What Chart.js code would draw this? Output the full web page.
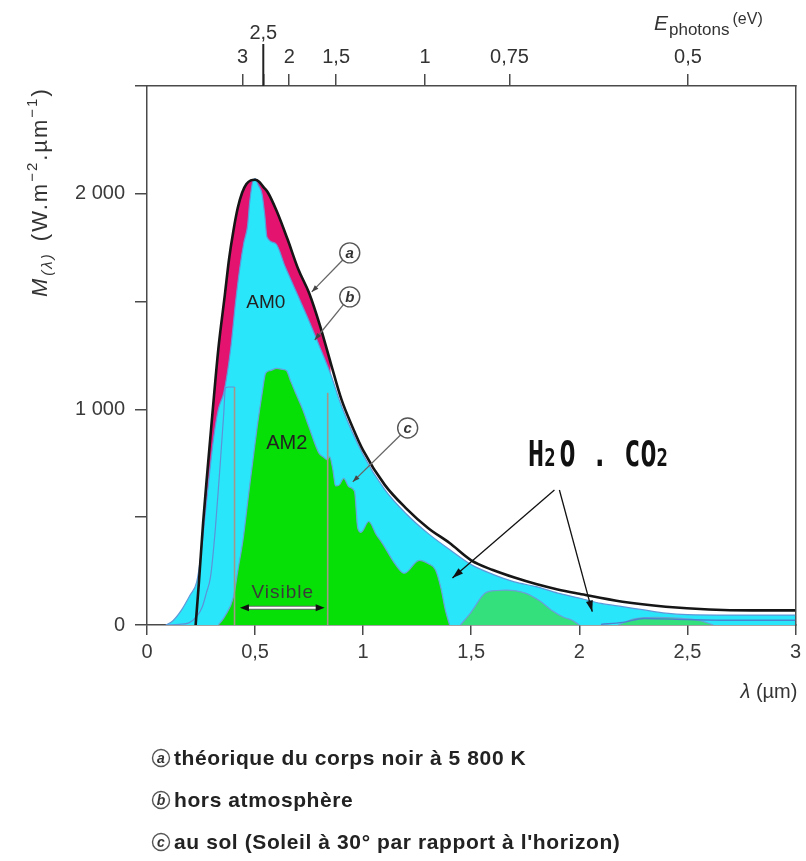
<!DOCTYPE html>
<html>
<head>
<meta charset="utf-8">
<script src="https://cdn.jsdelivr.net/npm/chart.js@4/dist/chart.umd.min.js"></script>
<style>
html,body{margin:0;padding:0;background:#ffffff;}
canvas{display:block;}
</style>
</head>
<body>
<canvas id="chart" width="806" height="861"></canvas>
<script>
// ---------- DATA ----------
// (a) blackbody 5 800 K
const lambdaA = [0.225,0.232,0.24,0.26,0.28,0.30,0.33,0.36,0.38,0.40,0.42,0.44,0.46,0.48,0.50,0.52,0.54,0.56,0.60,0.65,0.70,0.75,0.80,0.85,0.90,0.95,1.00,1.10,1.20,1.30,1.40,1.50,1.60,1.70,1.80,1.90,2.00,2.20,2.40,2.60,2.80,3.00];
const valuesA = [0,90,195,480,720,950,1280,1530,1700,1830,1935,2005,2045,2062,2065,2055,2030,2005,1920,1790,1650,1540,1390,1215,1045,920,810,650,540,450,380,300,255,220,190,165,145,108,85,72,68,68];
// (b) AM0, outside the atmosphere
const lambdaB = [0.088,0.12,0.16,0.20,0.23,0.25,0.27,0.29,0.31,0.33,0.356,0.387,0.41,0.43,0.448,0.465,0.475,0.49,0.50,0.515,0.532,0.545,0.555,0.595,0.64,0.693,0.75,0.795,0.849,0.90,1.00,1.10,1.20,1.30,1.40,1.50,1.60,1.70,1.80,1.90,2.00,2.10,2.20,2.30,2.40,2.50,2.70,3.00];
const valuesB = [0,20,70,140,200,330,520,710,880,1000,1080,1280,1500,1660,1773,1850,1960,2060,2070,2040,2000,1900,1800,1770,1660,1540,1410,1300,1165,1015,790,628,515,425,350,280,235,200,178,148,125,100,85,70,55,48,46,46];
// inner UV outline inside the AM0 area
const lambdaUV = [0.086,0.15,0.194,0.23,0.256,0.275,0.294,0.317,0.34,0.355,0.363,0.38,0.405];
const valuesUV = [0,3,10,40,85,150,224,456,766,980,1100,1104,1104];
// (c) AM2, at ground level
const lambdaC = [0.33,0.36,0.40,0.42,0.445,0.471,0.51,0.533,0.549,0.57,0.60,0.63,0.645,0.665,0.687,0.72,0.749,0.795,0.815,0.834,0.845,0.86,0.872,0.89,0.91,0.935,0.96,0.975,0.99,1.026,1.06,1.088,1.15,1.19,1.26,1.30,1.335,1.36,1.38,1.40];
const valuesC = [0,40,130,250,400,613,920,1077,1168,1180,1190,1185,1180,1130,1077,1000,919,798,780,766,780,720,645,650,680,640,620,450,430,480,420,380,280,240,300,285,255,170,70,0];
const lambdaC2 = [1.45,1.50,1.565,1.62,1.66,1.75,1.82,1.87,1.93,1.965,2.00];
const valuesC2 = [0,60,148,160,162,148,110,70,35,23,0];
const lambdaC3 = [2.18,2.25,2.35,2.45,2.55,2.62];
const valuesC3 = [0,28,36,32,22,0];
const lambdaCtail = [2.10,2.20,2.30,2.50,2.70,3.00];
const valuesCtail = [3,12,30,25,22,22];
// limits of the visible band
const visibleLimits = [0.405, 0.836];
const visibleTop = [1104, 1077];
// axes
const xTickValues = [0,0.5,1,1.5,2,2.5,3];
const xTickLabels = ['0','0,5','1','1,5','2','2,5','3'];
const yTickValues = [0,500,1000,1500,2000,2500];
const yTickLabels = ['0','','1 000','','2 000',''];
const energyTickLambda = [0.442,0.538,0.658,0.875,1.286,1.677,2.503];
const energyTickLabels = ['3','2,5','2','1,5','1','0,75','0,5'];
const raisedEnergyLabel = '2,5';
// legend texts
const legendLetters = ['a','b','c'];
const legendTexts = ['théorique du corps noir à 5 800 K','hors atmosphère',"au sol (Soleil à 30° par rapport à l'horizon)"];

// ---------- helpers ----------
const pts = (xs, ys) => xs.map((v, i) => ({x: v, y: ys[i]}));
const FONT = '"Liberation Sans", Arial, sans-serif';
const AX = '#4a4a4a';

const notes = {
  am0: {x:0.55, y:1494, text:'AM0'},
  am2: {x:0.647, y:840, text:'AM2'},
  visible: {x:0.628, y:150, text:'Visible'},
  visibleArrow: {x1:0.43, x2:0.822, y:80},
  circles: [
    {l:'a', x:0.938, y:1726, tx:0.762, ty:1545},
    {l:'b', x:0.938, y:1522, tx:0.776, ty:1322},
    {l:'c', x:1.206, y:914, tx:0.952, ty:664}
  ],
  h2o: {x:2.10, y:798},
  h2oArrows: [
    {x1:1.885, y1:626, x2:1.413, y2:218},
    {x1:1.908, y1:626, x2:2.06, y2:62}
  ]
};

function arrowHead(ctx, x1, y1, x2, y2, len, w) {
  const a = Math.atan2(y2 - y1, x2 - x1);
  ctx.beginPath();
  ctx.moveTo(x2, y2);
  ctx.lineTo(x2 - len*Math.cos(a) + w*Math.sin(a), y2 - len*Math.sin(a) - w*Math.cos(a));
  ctx.lineTo(x2 - len*Math.cos(a) - w*Math.sin(a), y2 - len*Math.sin(a) + w*Math.cos(a));
  ctx.closePath();
  ctx.fill();
}
function richText(ctx, x, y, segs) {
  let cx = x;
  for (const s of segs) {
    ctx.font = s.font;
    ctx.fillText(s.t, cx, y + (s.dy || 0));
    cx += ctx.measureText(s.t).width + (s.gap || 0);
  }
  return cx;
}
function circleLetter(ctx, cx, cy, r, letter, size) {
  ctx.save();
  ctx.beginPath();
  ctx.arc(cx, cy, r, 0, Math.PI*2);
  ctx.fillStyle = '#ffffff';
  ctx.fill();
  ctx.lineWidth = 1.4;
  ctx.strokeStyle = '#555';
  ctx.stroke();
  ctx.fillStyle = '#333';
  ctx.font = 'italic bold ' + size + 'px ' + FONT;
  ctx.textAlign = 'center';
  ctx.textBaseline = 'middle';
  ctx.fillText(letter, cx, cy + 1);
  ctx.restore();
}

const annotations = {
  id: 'annotations',
  afterDraw(chart) {
    const ctx = chart.ctx;
    const xs = chart.scales.x, ys = chart.scales.y, xt = chart.scales.xTop;
    const px = v => xs.getPixelForValue(v), py = v => ys.getPixelForValue(v);
    const area = chart.chartArea;
    ctx.save();

    // raised top tick (2,5 eV)
    const ri = energyTickLabels.indexOf(raisedEnergyLabel);
    const rx = xt.getPixelForValue(energyTickLambda[ri]);
    ctx.strokeStyle = '#222'; ctx.lineWidth = 2;
    ctx.beginPath(); ctx.moveTo(rx, area.top); ctx.lineTo(rx, 44); ctx.stroke();
    ctx.fillStyle = '#333'; ctx.font = '20px ' + FONT;
    ctx.textAlign = 'center'; ctx.textBaseline = 'alphabetic';
    ctx.fillText(raisedEnergyLabel, rx, 39);

    // top axis title  E_photons (eV)
    ctx.textAlign = 'left';
    ctx.fillStyle = '#333';
    richText(ctx, 654, 30, [
      {t:'E', font:'italic 21px ' + FONT, gap:1},
      {t:'photons', font:'17px ' + FONT, dy:5, gap:3},
      {t:'(eV)', font:'16px ' + FONT, dy:-6}
    ]);

    // y axis title
    ctx.save();
    ctx.translate(47, 297);
    ctx.rotate(-Math.PI/2);
    ctx.fillStyle = '#333';
    ctx.letterSpacing = '2px';
    richText(ctx, 0, 0, [
      {t:'M', font:'italic 22px ' + FONT, gap:1},
      {t:'(λ)', font:'italic 15px ' + FONT, dy:5, gap:3},
      {t:' (W.m', font:'22px ' + FONT},
      {t:'−2', font:'15px ' + FONT, dy:-10},
      {t:'.µm', font:'22px ' + FONT},
      {t:'−1', font:'15px ' + FONT, dy:-10},
      {t:')', font:'22px ' + FONT}
    ]);
    ctx.restore();
    ctx.letterSpacing = '0px';

    // x axis title
    ctx.fillStyle = '#333';
    ctx.textAlign = 'left';
    ctx.textBaseline = 'alphabetic';
    ctx.font = '20px ' + FONT;
    const wRest = ctx.measureText(' (µm)').width;
    ctx.font = 'italic 20px ' + FONT;
    const wL = ctx.measureText('λ').width;
    const xStart = area.right + 2 - wRest - wL;
    richText(ctx, xStart, 698, [
      {t:'λ', font:'italic 20px ' + FONT},
      {t:' (µm)', font:'20px ' + FONT}
    ]);

    // AM0 / AM2 labels
    ctx.fillStyle = '#222';
    ctx.textAlign = 'center';
    ctx.textBaseline = 'middle';
    ctx.font = '19px ' + FONT;
    ctx.fillText(notes.am0.text, px(notes.am0.x), py(notes.am0.y));
    ctx.font = '20px ' + FONT;
    ctx.fillText(notes.am2.text, px(notes.am2.x), py(notes.am2.y));

    // Visible label + double arrow
    ctx.fillStyle = '#3a3a3a';
    ctx.font = '19px ' + FONT;
    ctx.letterSpacing = '1px';
    ctx.fillText(notes.visible.text, px(notes.visible.x), py(notes.visible.y));
    ctx.letterSpacing = '0px';
    const va = notes.visibleArrow;
    const vx1 = px(va.x1), vx2 = px(va.x2), vy = py(va.y);
    ctx.strokeStyle = '#666'; ctx.lineWidth = 4;
    ctx.beginPath(); ctx.moveTo(vx1 + 6, vy); ctx.lineTo(vx2 - 6, vy); ctx.stroke();
    ctx.strokeStyle = '#ffffff'; ctx.lineWidth = 2;
    ctx.beginPath(); ctx.moveTo(vx1 + 6, vy); ctx.lineTo(vx2 - 6, vy); ctx.stroke();
    ctx.fillStyle = '#111';
    arrowHead(ctx, vx2, vy, vx1, vy, 9, 3.5);
    arrowHead(ctx, vx1, vy, vx2, vy, 9, 3.5);

    // circled letters with leader lines
    for (const c of notes.circles) {
      const cx = px(c.x), cy = py(c.y), tx = px(c.tx), ty = py(c.ty);
      const a = Math.atan2(ty - cy, tx - cx);
      const sx = cx + 10*Math.cos(a), sy = cy + 10*Math.sin(a);
      ctx.strokeStyle = '#666'; ctx.lineWidth = 1.3;
      ctx.beginPath(); ctx.moveTo(sx, sy); ctx.lineTo(tx, ty); ctx.stroke();
      ctx.fillStyle = '#444';
      arrowHead(ctx, sx, sy, tx, ty, 7, 2.5);
      circleLetter(ctx, cx, cy, 10, c.l, 15);
    }

    // H2O . CO2 label
    ctx.save();
    const hx = px(notes.h2o.x), hy = py(notes.h2o.y);
    ctx.fillStyle = '#111';
    ctx.textBaseline = 'alphabetic';
    ctx.textAlign = 'left';
    const chars = [['H',0],['2',1],['O',0],[' ',0],['.',0],[' ',0],['C',0],['O',0],['2',1]];
    const adv = 16.2;
    let cx0 = hx - adv*chars.length/2;
    const base = hy + 13;
    for (const [ch, sub] of chars) {
      ctx.save();
      ctx.translate(cx0, base);
      ctx.scale(0.76, 1);
      ctx.font = (sub ? 'bold 25px ' : 'bold 35px ') + '"DejaVu Sans Mono", monospace';
      ctx.fillText(ch, 0, 0);
      ctx.restore();
      cx0 += sub ? adv - 1 : adv;
    }
    ctx.restore();

    // H2O arrows
    for (const ar of notes.h2oArrows) {
      const x1 = px(ar.x1), y1 = py(ar.y1), x2 = px(ar.x2), y2 = py(ar.y2);
      ctx.strokeStyle = '#111'; ctx.lineWidth = 1.3;
      ctx.beginPath(); ctx.moveTo(x1, y1); ctx.lineTo(x2, y2); ctx.stroke();
      ctx.fillStyle = '#111';
      arrowHead(ctx, x1, y1, x2, y2, 11, 3.5);
    }

    // legend lines below the chart
    const rows = [758, 800, 842];
    legendLetters.forEach((l, i) => {
      circleLetter(ctx, 161, rows[i], 8.5, l, 14);
      ctx.fillStyle = '#222';
      ctx.font = 'bold 21px ' + FONT;
      ctx.letterSpacing = '0.6px';
      ctx.textAlign = 'left';
      ctx.textBaseline = 'middle';
      ctx.fillText(legendTexts[i], 174, rows[i] + 1);
      ctx.letterSpacing = '0px';
    });

    ctx.restore();
  }
};

const ds = (label, xs, ys, o) => Object.assign({
  label, data: pts(xs, ys), pointRadius: 0, pointHoverRadius: 0,
  cubicInterpolationMode: 'monotone', borderWidth: 1.2, fill: false
}, o);

const datasets = [
  ds('a', lambdaA, valuesA, {borderColor:'#161616', borderWidth:2.6, order:0}),
  ds('uv', lambdaUV, valuesUV, {borderColor:'#5d92d8', borderWidth:1.2, order:1}),
  ds('visLeft', [visibleLimits[0], visibleLimits[0]], [0, visibleTop[0]], {borderColor:'#a3978a', borderWidth:1.6, order:1, cubicInterpolationMode:'default', tension:0}),
  ds('visRight', [visibleLimits[1], visibleLimits[1]], [0, visibleTop[1]], {borderColor:'#a3978a', borderWidth:1.6, order:1, cubicInterpolationMode:'default', tension:0}),
  ds('cTail', lambdaCtail, valuesCtail, {borderColor:'#4c82d0', borderWidth:1.4, order:2}),
  ds('c', lambdaC, valuesC, {borderColor:'#6a9fd8', backgroundColor:'#06e006', fill:'origin', order:2}),
  ds('c2', lambdaC2, valuesC2, {borderColor:'#6a9fd8', backgroundColor:'#34e07c', fill:'origin', order:2}),
  ds('c3', lambdaC3, valuesC3, {borderColor:'#6a9fd8', backgroundColor:'#34e07c', fill:'origin', order:2}),
  ds('b', lambdaB, valuesB, {borderColor:'#5f98da', backgroundColor:'#2ae6fa', fill:'origin', order:3}),
  ds('magenta', lambdaA.filter(v => v <= 0.87), valuesA.filter((v, i) => lambdaA[i] <= 0.87), {borderColor:'rgba(0,0,0,0)', borderWidth:0, backgroundColor:'#e3136f', fill:'origin', order:4})
];

new Chart(document.getElementById('chart'), {
  type: 'line',
  data: { datasets },
  options: {
    responsive: false,
    devicePixelRatio: 1,
    animation: false,
    events: [],
    layout: { padding: { left: 0, right: 9, top: 0, bottom: 0 } },
    plugins: { legend: { display: false }, tooltip: { enabled: false } },
    scales: {
      x: {
        type: 'linear', position: 'bottom', min: 0, max: 3,
        afterBuildTicks: s => { s.ticks = xTickValues.map(v => ({value: v})); },
        afterFit: s => { s.height = 236; },
        ticks: { autoSkip: false, maxRotation: 0, padding: 5, color: '#3a3a3a',
                 font: { family: FONT, size: 20 },
                 callback: (v, i) => xTickLabels[i] },
        grid: { drawOnChartArea: false, drawTicks: true, tickLength: 10, color: AX, lineWidth: 1.5 },
        border: { display: true, color: AX, width: 1.5 }
      },
      xTop: {
        type: 'linear', position: 'top', min: 0, max: 3,
        afterBuildTicks: s => { s.ticks = energyTickLambda.map(v => ({value: v})); },
        afterFit: s => { s.height = 86; },
        ticks: { autoSkip: false, maxRotation: 0, padding: 5, color: '#333',
                 font: { family: FONT, size: 20 },
                 callback: (v, i) => energyTickLabels[i] === raisedEnergyLabel ? '' : energyTickLabels[i] },
        grid: { drawOnChartArea: false, drawTicks: true, tickLength: 12, color: AX, lineWidth: 1.5 },
        border: { display: true, color: AX, width: 1.5 }
      },
      y: {
        type: 'linear', position: 'left', min: 0, max: 2500,
        afterBuildTicks: s => { s.ticks = yTickValues.map(v => ({value: v})); },
        afterFit: s => { s.width = 147; },
        ticks: { autoSkip: false, padding: 10, color: '#3a3a3a',
                 font: { family: FONT, size: 20 },
                 callback: (v, i) => yTickLabels[i] },
        grid: { drawOnChartArea: false, drawTicks: true, tickLength: 12, color: AX, lineWidth: 1.5 },
        border: { display: true, color: AX, width: 1.5 }
      },
      yRight: {
        type: 'linear', position: 'right', min: 0, max: 2500,
        afterFit: s => { s.width = 0; },
        ticks: { display: false },
        grid: { display: false, drawTicks: false },
        border: { display: true, color: AX, width: 1.5 }
      }
    }
  },
  plugins: [annotations]
});
</script>
</body>
</html>
